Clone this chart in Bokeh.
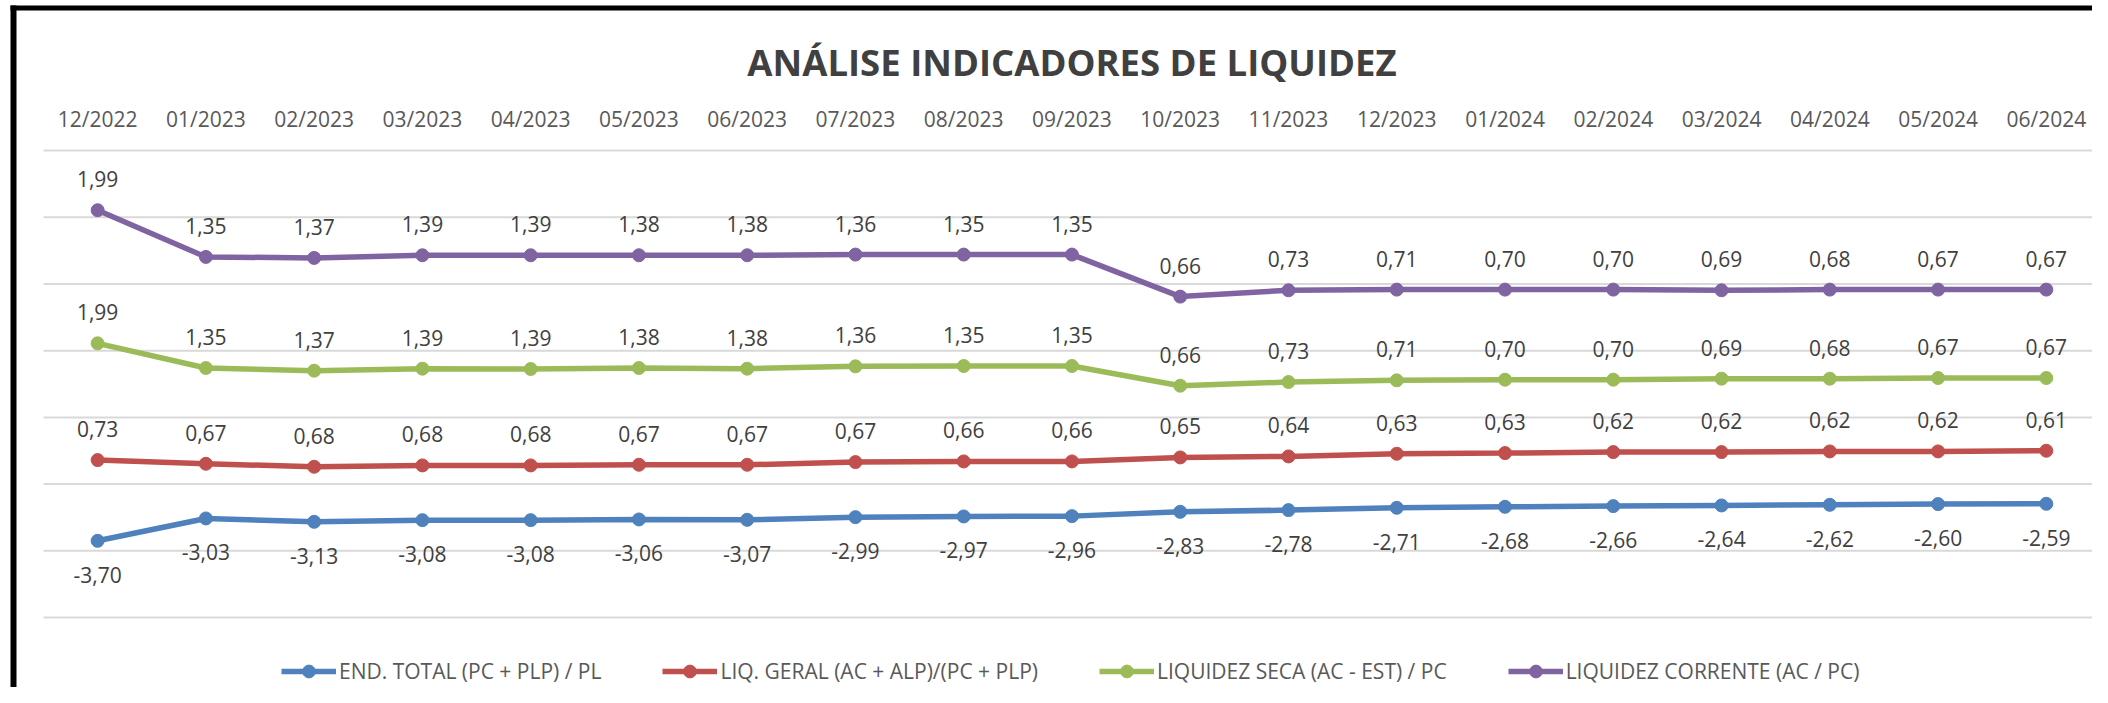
from bokeh.plotting import figure
from bokeh.models import Range1d, Legend, LegendItem, BoxAnnotation
from bokeh.core.properties import value
from bokeh.embed import file_html
from bokeh.resources import INLINE

# ---------------- data ----------------
months = ["12/2022", "01/2023", "02/2023", "03/2023", "04/2023", "05/2023", "06/2023",
          "07/2023", "08/2023", "09/2023", "10/2023", "11/2023", "12/2023", "01/2024",
          "02/2024", "03/2024", "04/2024", "05/2024", "06/2024"]

# END. TOTAL (PC + PLP) / PL  (plotted value = label)
end_total = [-3.70, -3.03, -3.13, -3.08, -3.08, -3.06, -3.07, -2.99, -2.97, -2.96,
             -2.83, -2.78, -2.71, -2.68, -2.66, -2.64, -2.62, -2.60, -2.59]

# LIQ. GERAL: plotted position and printed label
liq_geral_plot = [-1.28, -1.39, -1.48, -1.44, -1.44, -1.42, -1.42, -1.34, -1.32, -1.32,
                  -1.20, -1.17, -1.09, -1.07, -1.04, -1.04, -1.02, -1.02, -1.00]
liq_geral_lbl = [0.73, 0.67, 0.68, 0.68, 0.68, 0.67, 0.67, 0.67, 0.66, 0.66,
                 0.65, 0.64, 0.63, 0.63, 0.62, 0.62, 0.62, 0.62, 0.61]

# LIQUIDEZ SECA
liq_seca_plot = [2.22, 1.48, 1.40, 1.46, 1.45, 1.48, 1.46, 1.53, 1.54, 1.54,
                 0.95, 1.06, 1.11, 1.13, 1.13, 1.16, 1.16, 1.18, 1.18]
liq_seca_lbl = [1.99, 1.35, 1.37, 1.39, 1.39, 1.38, 1.38, 1.36, 1.35, 1.35,
                0.66, 0.73, 0.71, 0.70, 0.70, 0.69, 0.68, 0.67, 0.67]

# LIQUIDEZ CORRENTE
liq_corr_plot = [6.21, 4.81, 4.78, 4.86, 4.86, 4.86, 4.86, 4.88, 4.88, 4.88,
                 3.62, 3.81, 3.83, 3.83, 3.83, 3.81, 3.83, 3.83, 3.83]
liq_corr_lbl = [1.99, 1.35, 1.37, 1.39, 1.39, 1.38, 1.38, 1.36, 1.35, 1.35,
                0.66, 0.73, 0.71, 0.70, 0.70, 0.69, 0.68, 0.67, 0.67]

series_names = ["END. TOTAL (PC + PLP) / PL", "LIQ. GERAL (AC + ALP)/(PC + PLP)",
                "LIQUIDEZ SECA (AC - EST) / PC", "LIQUIDEZ CORRENTE (AC / PC)"]
colors = ["#4F81BD", "#C0504D", "#9BBB59", "#8064A2"]
title_text = "ANÁLISE INDICADORES DE LIQUIDEZ"
grid_ticks = [-6, -4, -2, 0, 2, 4, 6, 8]

FONT = "Open Sans"
W, H = 2092, 687

# ---------------- layout helpers (page pixels -> data) ----------------
X_PX = 108.26          # pixels per category
Y_PX = 33.36           # pixels per y unit
X0 = -0.5 - 43 / X_PX  # data x at left edge of canvas
Y0 = 8 + 150 / Y_PX    # data y at top edge of canvas


def px2x(px):
    return X0 + px / X_PX


def px2y(py):
    return Y0 - py / Y_PX


def fmt(v):
    return f"{v:.2f}".replace(".", ",")


xs = list(range(len(months)))

p = figure(width=W, height=H,
           x_range=Range1d(px2x(0), px2x(W)), y_range=Range1d(px2y(H), px2y(0)),
           output_backend="svg", toolbar_location=None,
           min_border=0, min_border_left=0, min_border_right=0,
           min_border_top=0, min_border_bottom=0)
p.outline_line_color = None
p.background_fill_color = "white"
p.border_fill_color = "white"
p.xaxis.visible = False
p.yaxis.visible = False
p.xgrid.visible = False
p.ygrid.visible = False

# horizontal gridlines across the category band
n = len(months)
p.segment(x0=[-0.5] * len(grid_ticks), x1=[n - 0.5] * len(grid_ticks),
          y0=grid_ticks, y1=grid_ticks, line_color="#D9D9D9", line_width=2)

# category labels on top
p.text(xs, [px2y(118)] * n, text=months, text_align="center", text_baseline="middle",
       text_font=value(FONT), text_font_size="21px", text_color="#595959")

# title
p.text([(n - 1) / 2], [px2y(61)], text=[title_text], text_align="center",
       text_baseline="middle", text_font=value(FONT), text_font_size="36.5px",
       text_font_style="bold", text_color="#404040")

plot_vals = [end_total, liq_geral_plot, liq_seca_plot, liq_corr_plot]
label_vals = [end_total, liq_geral_lbl, liq_seca_lbl, liq_corr_lbl]
items = []
for name, col, yv, lv in zip(series_names, colors, plot_vals, label_vals):
    l = p.line(xs, yv, line_color=col, line_width=5.5)
    s = p.scatter(xs, yv, size=13, fill_color=col, line_color=col)
    off = 34 if name.startswith("END") else -31
    p.text(xs, yv, text=[fmt(v) for v in lv], text_align="center", text_baseline="middle",
           y_offset=off, text_font=value(FONT), text_font_size="21px", text_color="#404040")
    items.append(LegendItem(label=name, renderers=[l, s]))

legend = Legend(items=items, orientation="horizontal", location=(281, 0),
                label_text_font=FONT, label_text_font_size="21px", label_text_color="#595959",
                glyph_width=55, glyph_height=32, label_standoff=3, spacing=61,
                label_height=24,
                border_line_color=None, background_fill_alpha=0, padding=0, margin=0)
p.add_layout(legend, "center")

# black frame (left and top edges)
p.add_layout(BoxAnnotation(left=px2x(10), right=px2x(16), top=px2y(5), bottom=px2y(H + 20),
                           fill_color="black", fill_alpha=1, line_alpha=0))
p.add_layout(BoxAnnotation(left=px2x(10), right=px2x(W + 20), top=px2y(5), bottom=px2y(10),
                           fill_color="black", fill_alpha=1, line_alpha=0))

open("out.html", "w").write(file_html(p, INLINE))
